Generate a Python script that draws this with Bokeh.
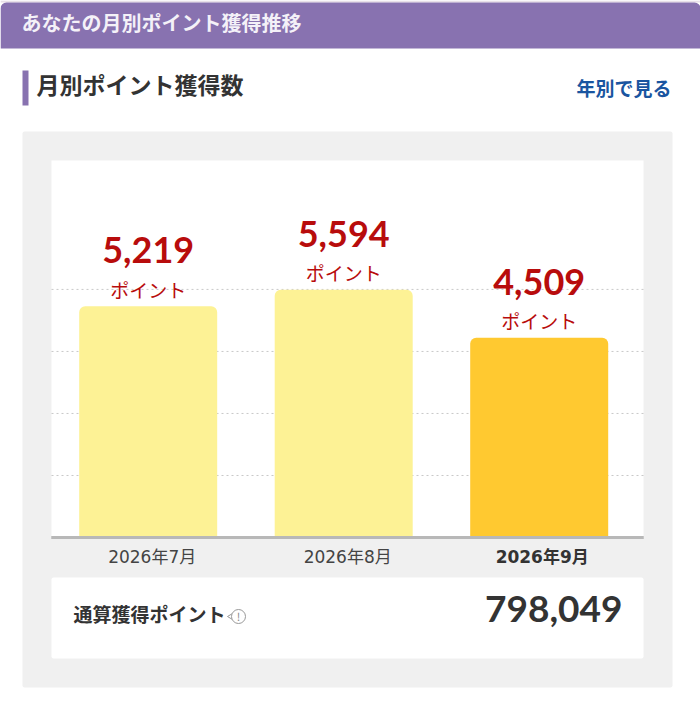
from bokeh.plotting import figure
from bokeh.models import (BoxAnnotation, Label, PolyAnnotation, Range1d, LinearAxis,
                          FixedTicker, ColumnDataSource)
from bokeh.embed import file_html
from bokeh.resources import INLINE
from bokeh.core.properties import value

months = ["2026年7月", "2026年8月", "2026年9月"]
points = [5219, 5594, 4509]
bar_colors = ["#fdf295", "#fdf295", "#ffc930"]
grid_ticks = [1400, 2800, 4200, 5600]
total_points = 798049
page_title = "あなたの月別ポイント獲得推移"
section_title = "月別ポイント獲得数"
link_text = "年別で見る"
total_label = "通算獲得ポイント"
unit_label = "ポイント"

W, H = 700, 706
JP = "Noto Sans CJK JP"
MIX = "DejaVu Sans, Noto Sans CJK JP"
NUM = "Lato"
RED = "#b80c0c"
DARK = "#333333"
PURPLE = "#8872b0"

# scale: one category = 195.5 px, first centre at 147.7 px; baseline at 537 px
PX_X, X0 = 195.5, 147.7
PX_Y, Y0 = 0.0443, 537
p = figure(width=W, height=H, output_backend="svg", toolbar_location=None,
           x_range=Range1d(-X0 / PX_X, (W - X0) / PX_X),
           y_range=Range1d(-(H - Y0) / PX_Y, Y0 / PX_Y),
           min_border=0, border_fill_color="white", background_fill_color="white",
           outline_line_color=None)
chart_left, chart_right = (51 - X0) / PX_X, (643 - X0) / PX_X


def box(l, t, r, b, color, radius=0, level="image", line=None):
    p.add_layout(BoxAnnotation(left=l, right=r, top=H - t, bottom=H - b,
                               left_units="screen", right_units="screen",
                               top_units="screen", bottom_units="screen",
                               fill_color=color, fill_alpha=1, line_color=line, line_alpha=1,
                               border_radius=radius, level=level, editable=False))


def label(x, y, text, size, color, font=JP, style="bold", align="left"):
    p.add_layout(Label(x=x, y=H - y, x_units="screen", y_units="screen", text=text,
                       text_font=font, text_font_size=f"{size}px", text_font_style=style,
                       text_color=color, text_align=align, text_baseline="middle"))


# page chrome
box(0, 0, 700, 2, "#e8e0e8")
box(0, 2, 700, 48, PURPLE, radius=(6, 6, 0, 0))
box(22, 70, 28, 105, PURPLE)
box(22, 131, 672, 687, "#f0f0f0", radius=2)
box(51, 160, 643, 537, "#ffffff")
box(51, 577, 643, 658, "#ffffff", radius=2)

label(21, 22, page_title, 20, "#f4f1f8")
label(36, 83, section_title, 23, DARK)
label(671, 87, link_text, 19, "#1a55a0", align="right")
label(73, 613, total_label, 19, DARK)
label(622, 608, f"{total_points:,}", 37, DARK, font=NUM, align="right")

# info icon
p.add_layout(PolyAnnotation(xs=[227, 232, 232], ys=[H - 616, H - 613, H - 619],
                            xs_units="screen", ys_units="screen",
                            fill_color="white", fill_alpha=1, line_color="#999999", line_alpha=1,
                            line_width=1, level="annotation", editable=False))
box(231, 609, 245, 623, "white", radius=7, level="annotation", line="#999999")
label(238, 615, "!", 11, "#888888", style="normal", align="center")

# grid and axes
p.xaxis.visible = False
p.yaxis.visible = False
p.grid.visible = False
p.segment(x0=[chart_left] * len(grid_ticks), x1=[chart_right] * len(grid_ticks),
          y0=grid_ticks, y1=grid_ticks, line_color="#c8c8c8", line_dash="2 3", line_width=1)


def month_axis(idx, style, color, line, nudge):
    # the month captions sit a few pixels right of the bar centres in the reference
    ticks = [i + nudge / PX_X for i in idx]
    ax = LinearAxis(ticker=FixedTicker(ticks=ticks), fixed_location=0,
                    major_label_overrides={t: months[i] for t, i in zip(ticks, idx)},
                    major_tick_line_color=None, minor_tick_line_color=None,
                    axis_line_color=line, axis_line_width=3,
                    bounds=(chart_left, chart_right),
                    major_label_text_font=MIX, major_label_text_font_size="17px",
                    major_label_text_font_style=style, major_label_text_color=color,
                    major_label_standoff=3)
    p.add_layout(ax, "below")


xs = list(range(len(months)))
src = ColumnDataSource(dict(x=xs, y=points, color=bar_colors,
                            txt=[f"{v:,}" for v in points],
                            unit=[unit_label] * len(points)))
p.vbar(x="x", top="y", bottom=0, width=138 / PX_X, fill_color="color", line_color=None,
       border_radius=(6, 6, 0, 0), source=src)
p.text(x="x", y="y", text="txt", source=src, text_align="center", text_baseline="middle",
       y_offset=-56, text_font=value(NUM), text_font_style="bold", text_font_size="36px",
       text_color=RED)
p.text(x="x", y="y", text="unit", source=src, text_align="center", text_baseline="middle",
       y_offset=-17, text_font=value(JP), text_font_size="19px", text_color=RED)

month_axis([0, 1], "normal", "#444444", "#b8b8b8", 4)
month_axis([2], "bold", DARK, "#b8b8b8", 3)

open("out.html", "w").write(file_html(p, INLINE))
